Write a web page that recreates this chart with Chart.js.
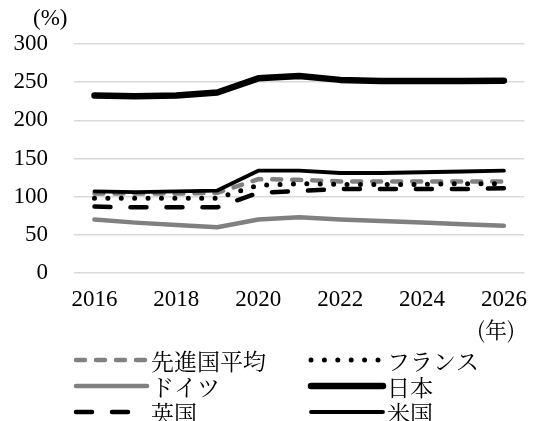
<!DOCTYPE html>
<html><head><meta charset="utf-8">
<script src="https://cdn.jsdelivr.net/npm/chart.js@4/dist/chart.umd.min.js"></script>
<style>html,body{margin:0;padding:0;background:#fff;}#wrap{width:540px;height:421px;}</style>
</head><body>
<div id="wrap"><canvas id="c" width="540" height="421"></canvas></div>
<script>
const years = ['2016','2017','2018','2019','2020','2021','2022','2023','2024','2025','2026'];
const yTicks = [0, 50, 100, 150, 200, 250, 300];
const advancedAvg = [104, 104, 104, 105, 123, 122, 120, 120, 120, 120, 120];
const france = [98, 98, 98, 98, 115, 117, 116, 116, 116, 117, 117];
const germany = [70, 66, 63, 60, 70, 73, 70, 68, 66, 64, 62];
const japan = [232.5, 231.5, 232.5, 236.5, 255, 258, 253, 251.5, 251.5, 251.5, 252];
const uk = [87, 86, 86, 86, 105, 107.5, 110, 110, 110, 110, 111];
const us = [107, 106, 107, 108, 134, 134, 131, 131, 132, 133, 134];
const names = ['先進国平均', 'フランス', 'ドイツ', '日本', '英国', '米国'];

const GREY = '#808080';
const SERIF = "'Liberation Serif'";
const JP = "'Noto Serif CJK JP'";

function ds(label, data, color, width, dash, order) {
  return { label, data, borderColor: color, backgroundColor: color, borderWidth: width,
    borderDash: dash, borderCapStyle: 'round', borderJoinStyle: 'round',
    pointRadius: 0, tension: 0, fill: false, order };
}

const extras = {
  id: 'extras',
  afterDraw(chart) {
    const ctx = chart.ctx;
    ctx.save();
    ctx.fillStyle = '#000';
    ctx.textBaseline = 'middle';
    ctx.textAlign = 'left';
    ctx.font = '23px ' + SERIF;
    ctx.fillText('(%)', 33, 19);
    ctx.font = '22px ' + JP;
    ctx.fillText('(年)', 477, 330);
    const cols = [{x0: 76, x1: 147, tx: 151}, {x0: 311, x1: 383, tx: 387}];
    const rows = [360, 386, 412];
    chart.data.datasets.forEach((d, i) => {
      const c = cols[i % 2], y = rows[Math.floor(i / 2)];
      ctx.save();
      ctx.strokeStyle = d.borderColor;
      ctx.lineWidth = d.borderWidth;
      ctx.lineCap = 'round';
      ctx.setLineDash(d.borderDash || []);
      ctx.beginPath();
      ctx.moveTo(c.x0, y);
      ctx.lineTo(c.x1, y);
      ctx.stroke();
      ctx.restore();
      ctx.fillStyle = '#000';
      ctx.font = '23px ' + JP;
      ctx.textAlign = 'left';
      ctx.textBaseline = 'middle';
      ctx.fillText(d.label, c.tx, y + 1);
    });
    ctx.restore();
  }
};

new Chart(document.getElementById('c'), {
  type: 'line',
  data: {
    labels: years,
    datasets: [
      ds(names[0], advancedAvg, GREY, 4.5, [9, 11], 3),
      ds(names[1], france, '#000', 5, [0, 13.4], 2),
      ds(names[2], germany, GREY, 4.5, [], 4),
      ds(names[3], japan, '#000', 6.5, [], 1),
      ds(names[4], uk, '#000', 4.5, [16, 20], 2),
      ds(names[5], us, '#000', 3.8, [], 0)
    ]
  },
  options: {
    responsive: false,
    animation: false,
    layout: { padding: { top: 44, left: 0, right: 2, bottom: 108 } },
    plugins: { legend: { display: false }, tooltip: { enabled: false } },
    scales: {
      x: {
        offset: true,
        grid: { display: false, drawTicks: false },
        border: { display: false },
        afterFit(s) { s.height = 40; },
        ticks: {
          autoSkip: false, maxRotation: 0, padding: 13, color: '#000',
          font: { family: SERIF, size: 23 },
          callback: (v, i) => (i % 2 === 0 ? years[i] : '')
        }
      },
      y: {
        min: 0, max: 300,
        afterFit(s) { s.width = 74; },
        afterBuildTicks(s) { s.ticks = yTicks.map(v => ({ value: v })); },
        grid: { color: '#d9d9d9', lineWidth: 1.5, drawTicks: false },
        border: { display: false },
        ticks: { padding: 26, color: '#000', font: { family: SERIF, size: 23 } }
      }
    }
  },
  plugins: [extras]
});
</script></body></html>
